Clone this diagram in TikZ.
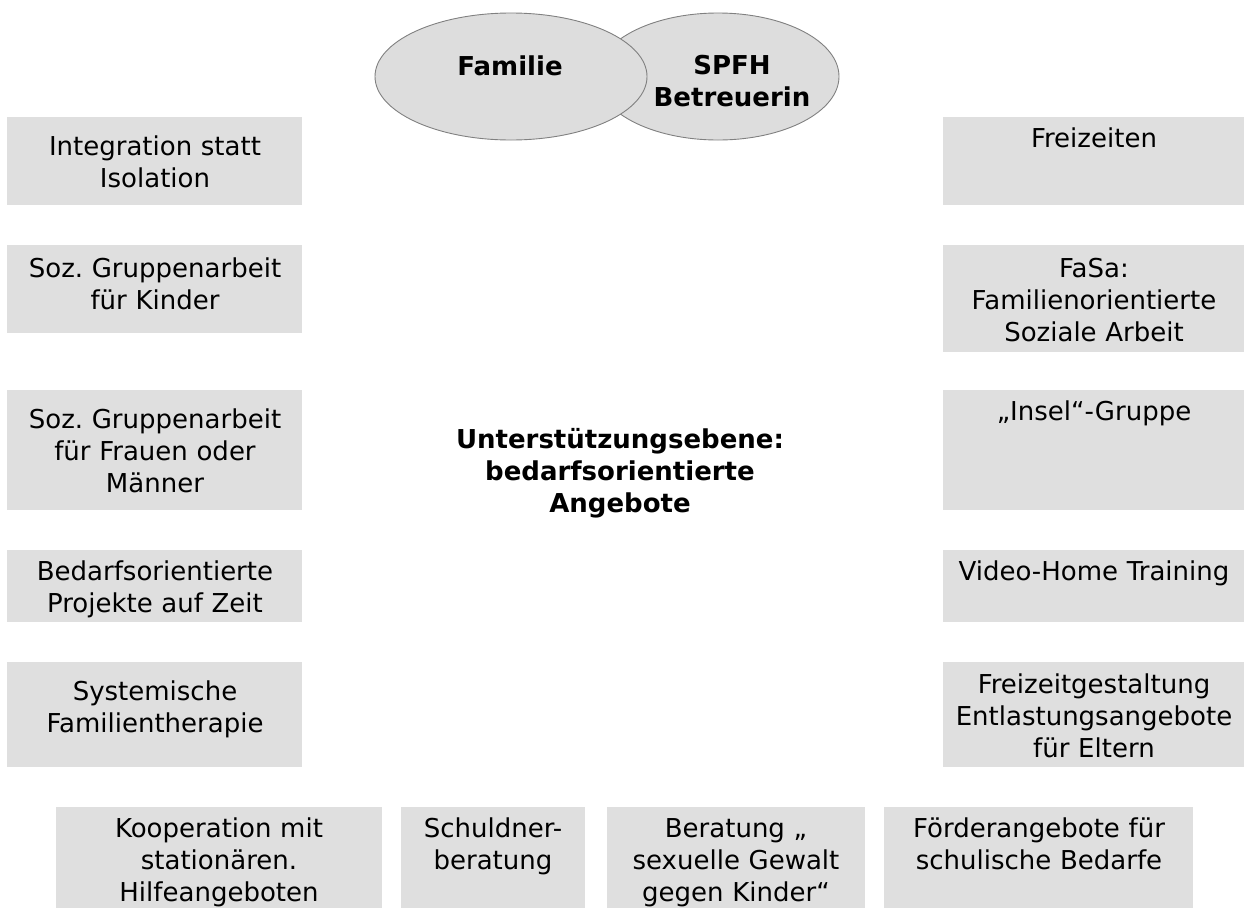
\documentclass[tikz,border=0pt]{standalone}
\usepackage{fontspec}
\setmainfont{DejaVu Sans}
\usetikzlibrary{shapes.geometric}
\definecolor{boxgray}{HTML}{DFDFDF}
\definecolor{ellgray}{HTML}{DDDDDD}
\definecolor{edgegray}{HTML}{808080}
\frenchspacing
\begin{document}
\begin{tikzpicture}[x=1pt,y=-1pt,
  box/.style={fill=boxgray,draw=none,inner sep=0pt,outer sep=0pt,anchor=north west},
  ell/.style={ellipse,fill=ellgray,draw=edgegray,line width=0.9pt,inner sep=0pt},
  txt/.style={anchor=base,text width=420pt,align=center,inner sep=0pt,font=\fontsize{26pt}{32pt}\selectfont\frenchspacing},
  btxt/.style={txt,font=\fontsize{26pt}{32pt}\selectfont\bfseries\frenchspacing}]
\useasboundingbox (0,0) rectangle (1244,908);
% ellipses
\node[ell,minimum width=242pt,minimum height=127pt] (spfh) at (718,76.5) {};
\node[ell,minimum width=272pt,minimum height=127pt] (fam) at (511,76.5) {};
\node[btxt] (tfam) at (510,75) {Familie};
\node[btxt] (tspfh) at (732,74) {SPFH\\Betreuerin};
% left column
\node[box,minimum width=295pt,minimum height=88pt] (l1) at (7,117) {};
\node[box,minimum width=295pt,minimum height=88pt] (l2) at (7,245) {};
\node[box,minimum width=295pt,minimum height=120pt] (l3) at (7,390) {};
\node[box,minimum width=295pt,minimum height=72pt] (l4) at (7,550) {};
\node[box,minimum width=295pt,minimum height=105pt] (l5) at (7,662) {};
\node[txt] (tl1) at (155,155) {Integration statt\\Isolation};
\node[txt] (tl2) at (155,277) {Soz. Gruppenarbeit\\für Kinder};
\node[txt] (tl3) at (155,428) {Soz. Gruppenarbeit\\für Frauen oder\\Männer};
\node[txt] (tl4) at (155,580) {Bedarfsorientierte\\Projekte auf Zeit};
\node[txt] (tl5) at (155,700) {Systemische\\Familientherapie};
% right column
\node[box,minimum width=301pt,minimum height=88pt] (r1) at (943,117) {};
\node[box,minimum width=301pt,minimum height=107pt] (r2) at (943,245) {};
\node[box,minimum width=301pt,minimum height=120pt] (r3) at (943,390) {};
\node[box,minimum width=301pt,minimum height=72pt] (r4) at (943,550) {};
\node[box,minimum width=301pt,minimum height=105pt] (r5) at (943,662) {};
\node[txt] (tr1) at (1094,147) {Freizeiten};
\node[txt] (tr2) at (1094,277) {FaSa:\\Familienorientierte\\Soziale Arbeit};
\node[txt] (tr3) at (1094,420) {„Insel“-Gruppe};
\node[txt] (tr4) at (1094,580) {Video-Home Training};
\node[txt] (tr5) at (1094,693) {Freizeitgestaltung\\Entlastungsangebote\\für Eltern};
% bottom row
\node[box,minimum width=326pt,minimum height=101pt] (b1) at (56,807) {};
\node[box,minimum width=184pt,minimum height=101pt] (b2) at (401,807) {};
\node[box,minimum width=258pt,minimum height=101pt] (b3) at (607,807) {};
\node[box,minimum width=309pt,minimum height=101pt] (b4) at (884,807) {};
\node[txt] (tb1) at (219,837) {Kooperation mit\\stationären.\\Hilfeangeboten};
\node[txt] (tb2) at (493,837) {Schuldner-\\beratung};
\node[txt] (tb3) at (736,837) {Beratung „\\sexuelle Gewalt\\gegen Kinder“};
\node[txt] (tb4) at (1039,837) {Förderangebote für\\schulische Bedarfe};
% centre
\node[btxt] (centre) at (620,448) {Unterstützungsebene:\\bedarfsorientierte\\Angebote};
\end{tikzpicture}
\end{document}
